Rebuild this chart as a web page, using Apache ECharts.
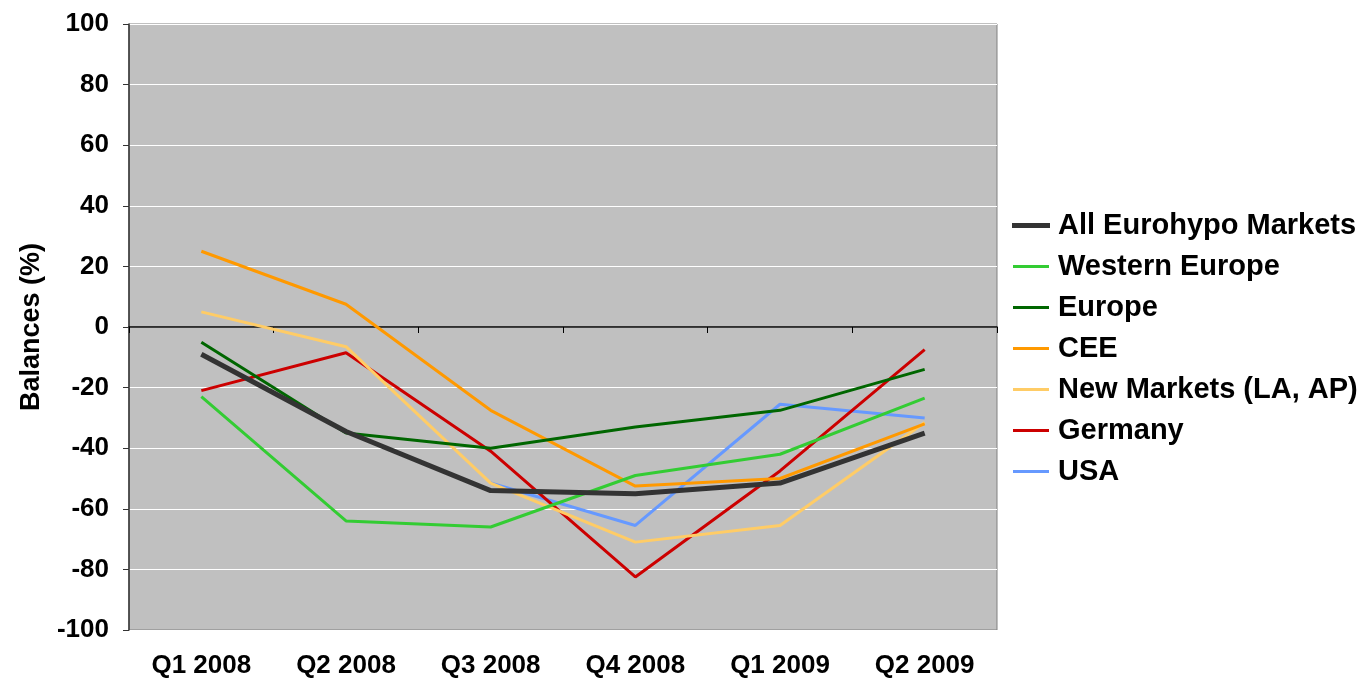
<!DOCTYPE html>
<html>
<head>
<meta charset="utf-8">
<title>Balances by market</title>
<script src="https://cdn.jsdelivr.net/npm/echarts@6/dist/echarts.min.js"></script>
<style>
  html, body { margin: 0; padding: 0; background: #ffffff; }
  #chart { width: 1363px; height: 684px; }
</style>
</head>
<body>
<div id="chart"></div>
<script>
// Quarters on the category axis
const quarters = ['Q1 2008', 'Q2 2008', 'Q3 2008', 'Q4 2008', 'Q1 2009', 'Q2 2009'];

// Balances (%) per market
const allEurohypo   = [-9, -34.5, -54, -55, -51.5, -35];
const westernEurope = [-23, -64, -66, -49, -42, -23.5];
const europe        = [-5, -35, -40, -33, -27.5, -14];
const cee           = [25, 7.5, -27.5, -52.5, -50, -32];
const newMarkets    = [5, -6.5, -51.5, -71, -65.5, -31.5];
const germany       = [-21, -8.5, -41, -82.5, -47.5, -7.5];
const usa           = [null, null, -51.5, -65.5, -25.5, -30];

const seriesNames = ['All Eurohypo Markets', 'Western Europe', 'Europe', 'CEE',
                     'New Markets (LA, AP)', 'Germany', 'USA'];
const seriesData  = [allEurohypo, westernEurope, europe, cee, newMarkets, germany, usa];
const seriesColors = ['#333333', '#33CC33', '#006600', '#FF9900', '#FFCC66', '#CC0000', '#6699FF'];
const seriesWidths = [5, 3, 3, 3, 3, 3, 3];

const FONT = '"Liberation Sans", Arial, sans-serif';

const chart = echarts.init(document.getElementById('chart'), null, { renderer: 'canvas' });

// Legend keys drawn as short strokes of each series' width
const legendItems = seriesNames.map((name, i) => ({
  name: name,
  icon: 'rect',
  itemStyle: {
    color: seriesColors[i],
    borderColor: seriesColors[i],
    borderWidth: seriesWidths[i] - 3
  }
}));

chart.setOption({
  animation: false,
  backgroundColor: '#ffffff',
  grid: {
    left: 129, right: 366, top: 24, bottom: 54,
    show: true,
    backgroundColor: '#C0C0C0',
    borderColor: '#808080',
    borderWidth: 1
  },
  legend: {
    orient: 'vertical',
    left: 1007,
    top: 206,
    itemWidth: 36,
    itemHeight: 3,
    itemGap: 12,
    textStyle: {
      fontFamily: FONT, fontWeight: 'bold', fontSize: 29, color: '#000000',
      padding: [0, 0, 0, 4]
    },
    data: legendItems
  },
  xAxis: [
    {
      // label axis along the bottom
      type: 'category',
      data: quarters,
      position: 'bottom',
      axisLine: { show: false, onZero: false },
      axisTick: { show: false },
      splitLine: { show: false },
      axisLabel: {
        margin: 23,
        fontFamily: FONT, fontWeight: 'bold', fontSize: 26, color: '#000000'
      }
    },
    {
      // zero line with category boundary ticks
      type: 'category',
      data: quarters,
      position: 'top',
      axisLine: { show: true, onZero: true, lineStyle: { color: '#000000', width: 1.5 } },
      axisTick: { show: true, inside: true, length: 6, lineStyle: { color: '#000000' } },
      axisLabel: { show: false },
      splitLine: { show: false }
    }
  ],
  yAxis: {
    type: 'value',
    min: -100, max: 100, interval: 20,
    name: 'Balances (%)',
    nameLocation: 'middle',
    nameGap: 84,
    nameRotate: 90,
    nameTextStyle: {
      fontFamily: FONT, fontWeight: 'bold', fontSize: 27, color: '#000000'
    },
    axisLine: { show: true, lineStyle: { color: '#333333', width: 1.5 } },
    axisTick: { show: true, length: 6, lineStyle: { color: '#333333' } },
    splitLine: { show: true, lineStyle: { color: '#ffffff', width: 1 } },
    axisLabel: {
      margin: 20,
      fontFamily: FONT, fontWeight: 'bold', fontSize: 26, color: '#000000'
    }
  },
  series: seriesNames.map((name, i) => ({
    name: name,
    type: 'line',
    xAxisIndex: 0,
    data: seriesData[i],
    symbol: 'none',
    connectNulls: false,
    color: seriesColors[i],
    lineStyle: { color: seriesColors[i], width: seriesWidths[i] },
    z: 10 - i
  }))
});
</script>
</body>
</html>
